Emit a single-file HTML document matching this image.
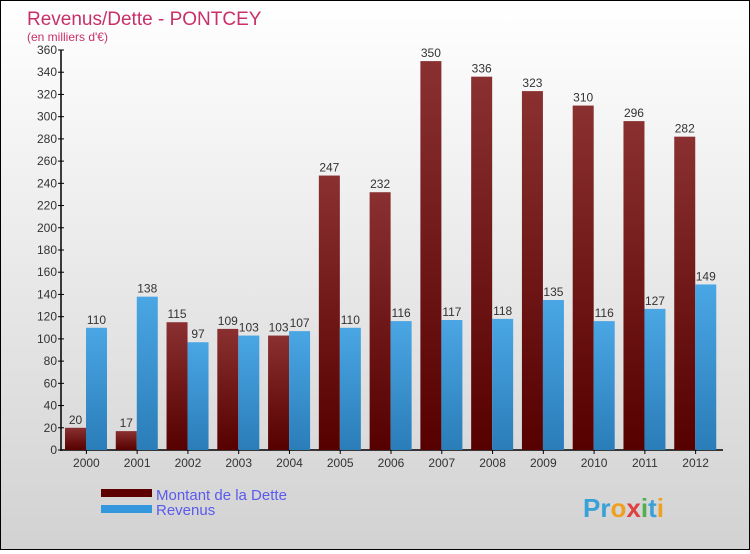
<!DOCTYPE html>
<html><head><meta charset="utf-8"><style>
html,body{margin:0;padding:0}
body{width:750px;height:550px;overflow:hidden;font-family:"Liberation Sans",sans-serif}
#wrap{position:relative;width:748px;height:548px;border:1px solid #000;background:linear-gradient(#ffffff,#d2d2d2)}
</style></head><body>
<div id="wrap">
<svg id="chart" width="748" height="548" font-family="Liberation Sans, sans-serif">
<defs>
<linearGradient id="gd" x1="0" y1="0" x2="0" y2="1"><stop offset="0" stop-color="#8a3030"/><stop offset="1" stop-color="#560000"/></linearGradient>
<linearGradient id="gr" x1="0" y1="0" x2="0" y2="1"><stop offset="0" stop-color="#4aa6e4"/><stop offset="1" stop-color="#2a7db8"/></linearGradient>
</defs>
<text x="26" y="24" font-size="19" fill="#c8306a">Revenus/Dette - PONTCEY</text>
<text x="26" y="40" font-size="12" fill="#c8306a">(en milliers d'€)</text>
<g id="axes"></g>
<g id="bars"></g>
<g>
<rect x="100" y="488" width="51" height="8" fill="#5e0000"/>
<text x="155" y="499" font-size="15" fill="#5a5aee">Montant de la Dette</text>
<rect x="100" y="504" width="51" height="8" fill="#3496dc"/>
<text x="155" y="514" font-size="15" fill="#5a5aee">Revenus</text>
</g>
<text x="582" y="516" font-size="26" font-weight="bold" fill="#3aa0d8">Pr<tspan fill="#f0a020">o</tspan><tspan fill="#e04040">x</tspan><tspan fill="#50b050">i</tspan>t<tspan fill="#f0a020">i</tspan></text>
</svg>
</div>
<script>
const years=["2000","2001","2002","2003","2004","2005","2006","2007","2008","2009","2010","2011","2012"];
const dette=[20,17,115,109,103,247,232,350,336,323,310,296,282];
const revenus=[110,138,97,103,107,110,116,117,118,135,116,127,149];
const yTicks=[0,20,40,60,80,100,120,140,160,180,200,220,240,260,280,300,320,340,360];
const NS="http://www.w3.org/2000/svg";
const x0=60,band=50.77,yBase=449,yMax=360,plotH=400;
function y(v){return yBase-v*plotH/yMax;}
function bx(i){return x0+i*band;}
function mk(tag,attrs,parent){const e=document.createElementNS(NS,tag);for(const k in attrs)e.setAttribute(k,attrs[k]);parent.appendChild(e);return e;}
const axes=document.getElementById('axes'),bars=document.getElementById('bars');
yTicks.forEach(t=>{
 const l=mk('line',{x1:x0-3,x2:x0+3,y1:y(t),y2:y(t),stroke:'#000'},axes);
 
 
 const tx=mk('text',{x:x0-4,y:y(t)+4,'font-size':12,'text-anchor':'end',fill:'#333'},axes);
 tx.textContent=t;
 
 
});
years.forEach((yr,i)=>{
 const c=bx(i)+band/2;
 const tk=mk('line',{x1:c,x2:c,y1:yBase,y2:yBase+4,stroke:'#000'},axes);
 
 
 const tx=mk('text',{x:c,y:yBase+17,'font-size':12,'text-anchor':'middle',fill:'#333'},axes);
 tx.textContent=yr;
 
 
 const d=mk('rect',{x:bx(i)+4,y:y(dette[i]),width:21,height:yBase-y(dette[i]),fill:'url(#gd)'},bars);
 
 
 const dl=mk('text',{x:bx(i)+14.5,y:y(dette[i])-4,'font-size':12,'text-anchor':'middle',fill:'#333'},bars);
 dl.textContent=dette[i];
 
 
 const r=mk('rect',{x:bx(i)+25,y:y(revenus[i]),width:21,height:yBase-y(revenus[i]),fill:'url(#gr)'},bars);
 
 
 const rl=mk('text',{x:bx(i)+35.5,y:y(revenus[i])-4,'font-size':12,'text-anchor':'middle',fill:'#333'},bars);
 rl.textContent=revenus[i];
 
 
});
const ya=mk('line',{x1:x0,x2:x0,y1:y(360),y2:yBase+1,stroke:'#000','stroke-width':1.5},axes);


const xa=mk('line',{x1:x0,x2:722,y1:yBase,y2:yBase,stroke:'#000','stroke-width':1.5},axes);


</script>
</body></html>
